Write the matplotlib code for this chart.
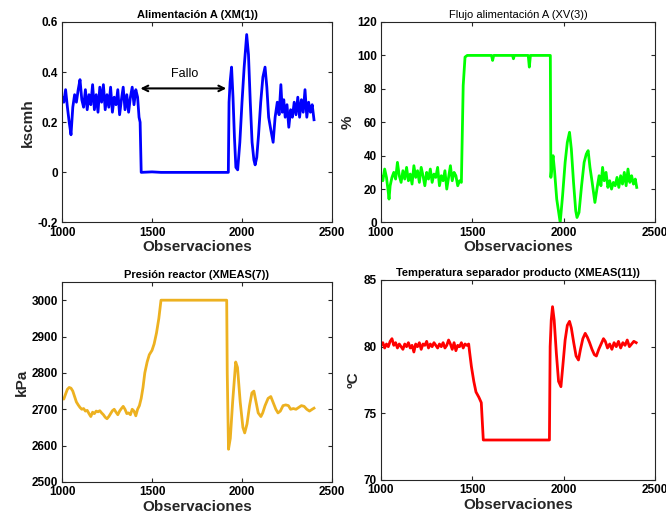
import numpy as np
import matplotlib
matplotlib.use('Agg')
import matplotlib.pyplot as plt

# datos
obs_a = [1000,1010,1020,1030,1040,1050,1060,1070,1080,1090,1100,1110,1120,1130,1140,1150,
         1160,1170,1180,1190,1200,1210,1220,1230,1240,1250,1260,1270,1280,1290,1300,1310,
         1320,1330,1340,1350,1360,1370,1380,1390,1400,1410,1420,1428,1434,1440,1500,1550,1600,1924,
         1928,1934,1942,1950,1958,1966,1976,1988,2000,2012,2026,2036,2046,2056,2066,2073,2082,
         2092,2104,2116,2128,2138,2148,2160,2173,2184,2196,2206,2216,2224,2232,2240,2250,2260,
         2270,2280,2290,2300,2310,2320,2330,2340,2350,2360,2370,2380,2390,2400]
xm1 = [0.30,0.28,0.33,0.26,0.20,0.15,0.26,0.31,0.28,0.33,0.37,0.29,0.26,0.33,0.25,0.31,
       0.27,0.35,0.25,0.31,0.24,0.34,0.28,0.35,0.25,0.31,0.26,0.34,0.24,0.30,0.27,0.33,
       0.23,0.29,0.34,0.25,0.31,0.24,0.30,0.34,0.27,0.33,0.30,0.22,0.20,0.0,0.002,0.0,0.0,0.0,
       0.28,0.36,0.42,0.30,0.14,0.02,0.01,0.12,0.28,0.42,0.55,0.47,0.28,0.12,0.05,0.03,0.06,
       0.15,0.28,0.38,0.42,0.34,0.22,0.17,0.12,0.22,0.28,0.23,0.35,0.24,0.29,0.22,0.27,0.18,
       0.25,0.22,0.28,0.23,0.30,0.22,0.29,0.24,0.33,0.22,0.28,0.24,0.27,0.21]

obs_b = [1000,1010,1020,1030,1040,1044,1050,1060,1070,1080,1090,1100,1110,1120,1130,1140,
         1150,1160,1170,1180,1190,1200,1210,1220,1230,1240,1250,1260,1270,1280,1290,1300,
         1310,1320,1330,1340,1350,1360,1370,1380,1390,1400,1410,1420,1430,1440,1450,1460,
         1472,1605,1611,1617,1720,1725,1730,1806,1812,1818,1927,1930,1936,1942,1950,1962,
         1981,1994,2008,2020,2032,2042,2054,2066,2073,2084,2098,2112,2124,2134,2144,2156,
         2171,2182,2194,2204,2213,2222,2232,2242,2252,2262,2272,2282,2292,2302,2312,2322,
         2332,2342,2352,2362,2372,2382,2392,2400]
xv3 = [28,25,32,27,18,14,22,27,30,26,36,28,24,31,26,33,
       25,29,23,34,27,31,24,33,28,22,30,26,32,24,29,27,
       33,22,28,25,31,20,27,34,25,30,28,22,25,24,82,99,
       100,100,97,100,100,98,100,100,93,100,100,27,35,40,31,14,
       0,16,36,48,54,44,24,7,3,6,22,36,41,43,33,24,
       12,20,28,22,33,25,30,21,25,20,24,22,27,21,28,23,
       30,22,32,24,28,23,26,21]

obs_c = [1000,1010,1020,1030,1040,1050,1060,1070,1080,1090,1100,1110,1120,1130,1140,1150,
         1160,1170,1180,1190,1200,1210,1220,1230,1240,1250,1260,1270,1280,1290,1300,1310,
         1320,1330,1340,1350,1360,1370,1380,1390,1400,1410,1420,1430,1440,1450,1460,1473,
         1485,1500,1512,1525,1538,1550,1915,1918,1925,1935,1948,1965,1975,1990,2005,2015,
         2028,2042,2055,2066,2076,2090,2105,2115,2128,2145,2160,2172,2188,2200,2213,2228,
         2243,2258,2270,2285,2300,2315,2330,2345,2360,2375,2390,2400]
xmeas7 = [2730,2728,2742,2755,2760,2758,2750,2735,2720,2712,2705,2700,2702,2695,2697,2688,
          2680,2692,2688,2695,2693,2696,2690,2685,2678,2674,2680,2688,2696,2700,2692,2685,
          2695,2702,2708,2700,2688,2690,2685,2700,2695,2682,2700,2710,2730,2760,2800,2830,
          2850,2862,2880,2910,2950,3000,3000,2800,2590,2620,2720,2830,2815,2720,2650,2635,
          2660,2710,2745,2750,2725,2690,2680,2690,2710,2730,2735,2720,2700,2690,2695,2710,
          2712,2710,2700,2702,2700,2705,2710,2708,2700,2695,2700,2703]

obs_d = [1000,1010,1020,1030,1040,1050,1060,1070,1080,1090,1100,1110,1120,1130,1140,1150,
         1160,1170,1180,1190,1200,1210,1220,1230,1240,1250,1260,1270,1280,1290,1300,1310,
         1320,1330,1340,1350,1360,1370,1380,1390,1400,1410,1420,1430,1440,1450,1460,1470,
         1480,1485,1495,1508,1520,1536,1549,1560,1922,1926,1932,1939,1948,1960,1972,1985,
         1995,2008,2020,2032,2042,2055,2068,2081,2092,2105,2118,2130,2142,2155,2168,2179,
         2192,2205,2218,2228,2240,2252,2264,2276,2288,2300,2312,2324,2336,2348,2360,2372,
         2384,2397]
xmeas11 = [80.1,80.3,79.9,80.2,80.0,80.4,80.6,80.1,80.3,79.9,80.2,80.0,79.8,80.2,80.0,80.3,
           79.9,80.1,79.6,80.2,80.0,80.3,79.8,80.2,80.1,80.4,79.9,80.2,80.0,80.3,80.1,79.9,
           80.2,80.0,80.3,79.9,80.1,80.5,80.2,79.8,80.3,79.7,80.1,80.0,80.3,79.9,80.2,80.1,
           80.2,79.6,78.5,77.4,76.6,76.2,75.8,73.0,73.0,80.0,82.0,83.0,82.0,79.5,77.4,77.0,
           78.5,80.5,81.6,81.9,81.4,80.3,79.3,79.0,79.8,80.6,81.0,80.7,80.3,79.8,79.4,79.3,
           79.8,80.2,80.6,80.4,79.9,80.2,79.8,80.3,80.0,80.4,79.9,80.3,80.1,80.5,80.0,80.2,
           80.4,80.3]

titles = ['Alimentación A (XM(1))', 'Flujo alimentación A (XV(3))',
          'Presión reactor (XMEAS(7))', 'Temperatura separador producto (XMEAS(11))']
ylabels = ['kscmh', '%', 'kPa', 'ºC']

plt.rcParams['font.family'] = ['Liberation Sans', 'DejaVu Sans']
fig = plt.figure(figsize=(6.66, 5.22), dpi=100)

W, H = 666.0, 522.0
def mk_ax(l, t, r, b):
    return fig.add_axes([l/W, 1-b/H, (r-l)/W, (b-t)/H])

ax1 = mk_ax(62, 22, 332, 222.5)
ax2 = mk_ax(381, 22, 655, 222.5)
ax3 = mk_ax(62, 282, 332, 482)
ax4 = mk_ax(381, 280, 655, 480)

ax1.plot(obs_a, xm1, color='#0000FF', lw=2)
ax2.plot(obs_b, xv3, color='#00FF00', lw=2)
ax3.plot(obs_c, xmeas7, color='#EDB120', lw=2)
ax4.plot(obs_d, xmeas11, color='#FF0000', lw=2)

ax1.set_ylim(-0.2, 0.6)
ax1.set_yticks([-0.2, 0, 0.2, 0.4, 0.6])
ax1.set_yticklabels(['-0.2', '0', '0.2', '0.4', '0.6'])
ax2.set_ylim(0, 120)
ax2.set_yticks([0, 20, 40, 60, 80, 100, 120])
ax3.set_ylim(2500, 3050)
ax3.set_yticks([2500, 2600, 2700, 2800, 2900, 3000])
ax4.set_ylim(70, 85)
ax4.set_yticks([70, 75, 80, 85])

# flecha del fallo
ax1.annotate('', xy=(1420, 0.335), xytext=(1928, 0.335),
             arrowprops=dict(arrowstyle='<->', color='black', lw=1.5))
ax1.text(1680, 0.37, 'Fallo', ha='center', va='bottom', fontsize=9)

for i, ax in enumerate([ax1, ax2, ax3, ax4]):
    ax.set_xlim(1000, 2500)
    ax.set_xticks([1000, 1500, 2000, 2500])
    ax.tick_params(direction='in', top=True, right=True, length=3, width=0.8,
                   colors='#262626', labelsize=8.5, pad=3)
    for lab in ax.get_xticklabels() + ax.get_yticklabels():
        lab.set_fontweight('bold')
        lab.set_color('black')
    for sp in ax.spines.values():
        sp.set_color('#262626')
        sp.set_linewidth(0.8)
    ax.set_title(titles[i], fontsize=8, fontweight='normal' if i == 1 else 'bold', pad=3)
    ax.set_xlabel('Observaciones', fontsize=11, fontweight='bold', labelpad=1, color='#262626')
    ax.set_ylabel(ylabels[i], fontsize=11, fontweight='bold', labelpad=2, color='#262626')

fig.savefig('out.png', dpi=100)
